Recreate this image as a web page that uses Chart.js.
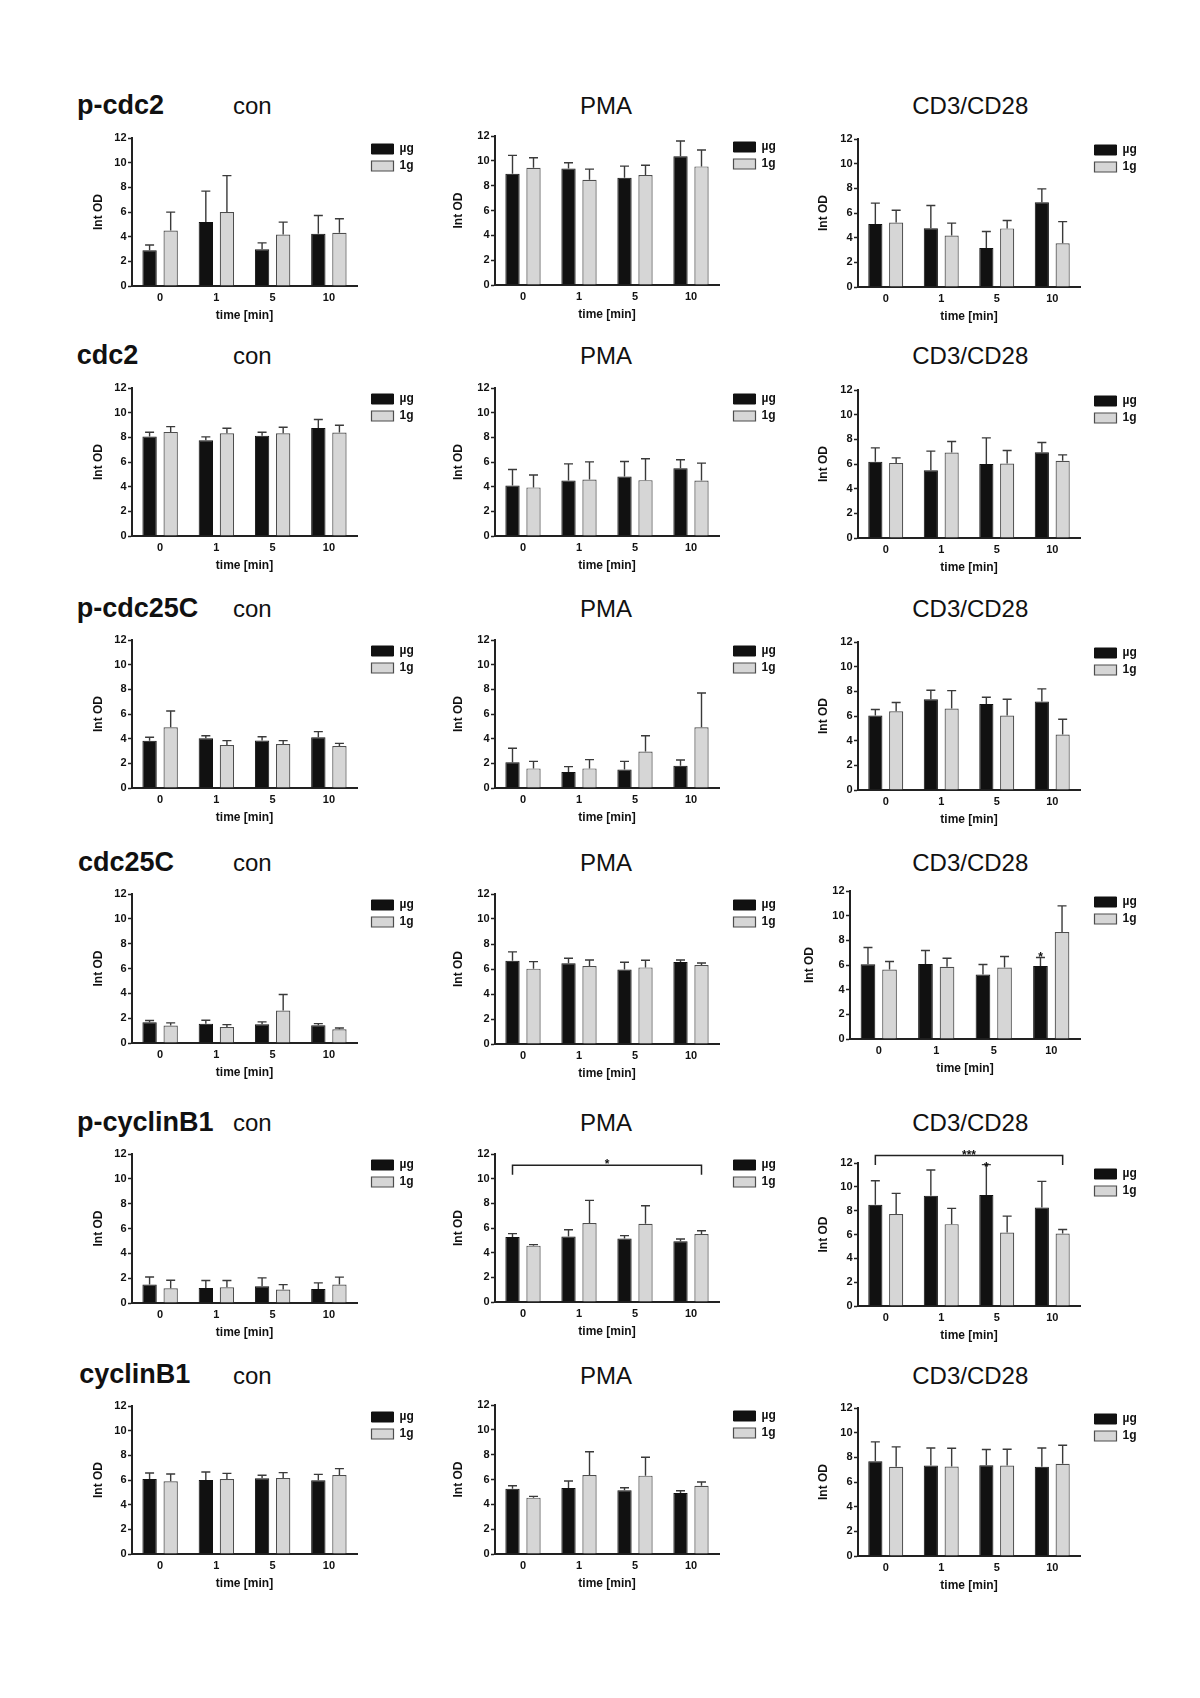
<!DOCTYPE html>
<html>
<head>
<meta charset="utf-8">
<script src="https://cdn.jsdelivr.net/npm/chart.js"></script>
<style>
  html, body { margin: 0; padding: 0; background: #fff; }
  body { width: 1200px; height: 1698px; position: relative; overflow: hidden;
         font-family: 'Liberation Sans', Arial, sans-serif; }
  .lbl { position: absolute; white-space: nowrap; line-height: 1; color: #111; }
  .row { font-weight: bold; font-size: 27px; }
  .col { font-size: 24px; }
  canvas { position: absolute; }
</style>
</head>
<body>
<script>
const times = ['0', '1', '5', '10'];
const groups = ['µg', '1g'];
const proteins = ['p-cdc2', 'cdc2', 'p-cdc25C', 'cdc25C', 'p-cyclinB1', 'cyclinB1'];
const stimuli = ['con', 'PMA', 'CD3/CD28'];

// p-cdc2
const pCdc2ConUg = [2.9, 5.18, 2.97, 4.23];
const pCdc2ConUgSd = [0.43, 2.51, 0.53, 1.49];
const pCdc2Con1g = [4.5, 5.99, 4.18, 4.31];
const pCdc2Con1gSd = [1.49, 2.96, 1.0, 1.14];
const pCdc2PmaUg = [8.95, 9.39, 8.63, 10.36];
const pCdc2PmaUgSd = [1.49, 0.45, 0.94, 1.24];
const pCdc2Pma1g = [9.44, 8.47, 8.85, 9.55];
const pCdc2Pma1gSd = [0.81, 0.86, 0.8, 1.32];
const pCdc2CdUg = [5.1, 4.77, 3.16, 6.88];
const pCdc2CdUgSd = [1.7, 1.84, 1.34, 1.08];
const pCdc2Cd1g = [5.22, 4.18, 4.75, 3.55];
const pCdc2Cd1gSd = [1.0, 1.0, 0.64, 1.75];

// cdc2
const cdc2ConUg = [8.06, 7.77, 8.12, 8.76];
const cdc2ConUgSd = [0.35, 0.27, 0.29, 0.68];
const cdc2Con1g = [8.44, 8.33, 8.33, 8.39];
const cdc2Con1gSd = [0.43, 0.41, 0.49, 0.59];
const cdc2PmaUg = [4.1, 4.5, 4.83, 5.5];
const cdc2PmaUgSd = [1.29, 1.35, 1.21, 0.68];
const cdc2Pma1g = [3.94, 4.58, 4.53, 4.5];
const cdc2Pma1gSd = [1.0, 1.43, 1.73, 1.41];
const cdc2CdUg = [6.18, 5.5, 5.99, 6.96];
const cdc2CdUgSd = [1.13, 1.54, 2.13, 0.78];
const cdc2Cd1g = [6.09, 6.93, 6.04, 6.26];
const cdc2Cd1gSd = [0.41, 0.89, 1.05, 0.48];

// p-cdc25C
const pCdc25ConUg = [3.84, 4.03, 3.86, 4.11];
const pCdc25ConUgSd = [0.27, 0.21, 0.3, 0.46];
const pCdc25Con1g = [4.92, 3.49, 3.57, 3.41];
const pCdc25Con1gSd = [1.32, 0.35, 0.27, 0.21];
const pCdc25PmaUg = [2.08, 1.3, 1.49, 1.81];
const pCdc25PmaUgSd = [1.14, 0.43, 0.67, 0.46];
const pCdc25Pma1g = [1.59, 1.59, 2.95, 4.92];
const pCdc25Pma1gSd = [0.57, 0.71, 1.29, 2.78];
const pCdc25CdUg = [6.04, 7.36, 6.98, 7.17];
const pCdc25CdUgSd = [0.49, 0.73, 0.54, 1.03];
const pCdc25Cd1g = [6.39, 6.61, 6.04, 4.5];
const pCdc25Cd1gSd = [0.7, 1.45, 1.32, 1.24];

// cdc25C
const cdc25ConUg = [1.67, 1.56, 1.51, 1.43];
const cdc25ConUgSd = [0.14, 0.27, 0.19, 0.13];
const cdc25Con1g = [1.4, 1.29, 2.62, 1.11];
const cdc25Con1gSd = [0.22, 0.19, 1.29, 0.1];
const cdc25PmaUg = [6.67, 6.46, 5.97, 6.56];
const cdc25PmaUgSd = [0.7, 0.4, 0.57, 0.16];
const cdc25Pma1g = [6.03, 6.24, 6.13, 6.32];
const cdc25Pma1gSd = [0.56, 0.48, 0.57, 0.16];
const cdc25CdUg = [6.07, 6.09, 5.23, 5.91];
const cdc25CdUgSd = [1.35, 1.08, 0.81, 0.7];
const cdc25Cd1g = [5.64, 5.85, 5.8, 8.68];
const cdc25Cd1gSd = [0.64, 0.7, 0.89, 2.11];

// p-cyclinB1
const pCycConUg = [1.48, 1.21, 1.35, 1.13];
const pCycConUgSd = [0.62, 0.6, 0.67, 0.49];
const pCycCon1g = [1.19, 1.27, 1.08, 1.48];
const pCycCon1gSd = [0.64, 0.54, 0.4, 0.6];
const pCycPmaUg = [5.27, 5.32, 5.14, 4.92];
const pCycPmaUgSd = [0.27, 0.54, 0.24, 0.19];
const pCycPma1g = [4.57, 6.41, 6.35, 5.51];
const pCycPma1gSd = [0.08, 1.83, 1.46, 0.27];
const pCycCdUg = [8.49, 9.25, 9.31, 8.27];
const pCycCdUgSd = [2.02, 2.16, 2.55, 2.19];
const pCycCd1g = [7.71, 6.87, 6.17, 6.08];
const pCycCd1gSd = [1.74, 1.32, 1.37, 0.34];

// cyclinB1
const cycConUg = [6.08, 6.0, 6.14, 5.97];
const cycConUgSd = [0.49, 0.65, 0.24, 0.49];
const cycCon1g = [5.89, 6.08, 6.16, 6.41];
const cycCon1gSd = [0.6, 0.46, 0.44, 0.51];
const cycPmaUg = [5.26, 5.32, 5.13, 4.91];
const cycPmaUgSd = [0.24, 0.56, 0.21, 0.19];
const cycPma1g = [4.54, 6.36, 6.31, 5.5];
const cycPma1gSd = [0.1, 1.88, 1.48, 0.3];
const cycCdUg = [7.69, 7.34, 7.36, 7.23];
const cycCdUgSd = [1.56, 1.42, 1.27, 1.53];
const cycCd1g = [7.23, 7.25, 7.34, 7.47];
const cycCd1gSd = [1.62, 1.49, 1.32, 1.51];

// significance marks (value levels on the y scale)
const pCycPmaBracket = { from: 0, to: 3, level: 11.08, drop: 10.32, text: '*', textAt: 11.4 };
const pCycCdBracket = { from: 0, to: 3, level: 12.62, drop: 11.83, text: '***', textAt: 12.9 };
const pCycCdStar = { ds: 0, idx: 2, at: 11.9, text: '*' };
const cdc25CdStar = { ds: 0, idx: 3, at: 6.9, text: '*' };

Chart.defaults.font.family = "'Liberation Sans', Arial, sans-serif";
Chart.defaults.color = '#111';

// layout of the page (pixel positions of each plot area)
const colX = [131.7, 495, 858];
const colW = [225, 224, 222];
const titleOff = [33, 36.6, 34.5];
const rowBase = [114.7, 364.7, 617.7, 871.7, 1131.7, 1384];
const rowLabelX = [77, 76.7, 76.7, 78, 77, 79.3];

const panels = [
  { r: 0, c: 0, top: 138, bottom: 286.3, d: [pCdc2ConUg, pCdc2ConUgSd, pCdc2Con1g, pCdc2Con1gSd] },
  { r: 0, c: 1, top: 136.3, bottom: 284.7, d: [pCdc2PmaUg, pCdc2PmaUgSd, pCdc2Pma1g, pCdc2Pma1gSd] },
  { r: 0, c: 2, top: 138.7, bottom: 287, d: [pCdc2CdUg, pCdc2CdUgSd, pCdc2Cd1g, pCdc2Cd1gSd] },
  { r: 1, c: 0, top: 388, bottom: 536.3, d: [cdc2ConUg, cdc2ConUgSd, cdc2Con1g, cdc2Con1gSd] },
  { r: 1, c: 1, top: 388, bottom: 536.3, d: [cdc2PmaUg, cdc2PmaUgSd, cdc2Pma1g, cdc2Pma1gSd] },
  { r: 1, c: 2, top: 389.7, bottom: 538, d: [cdc2CdUg, cdc2CdUgSd, cdc2Cd1g, cdc2Cd1gSd] },
  { r: 2, c: 0, top: 639.7, bottom: 787.7, d: [pCdc25ConUg, pCdc25ConUgSd, pCdc25Con1g, pCdc25Con1gSd] },
  { r: 2, c: 1, top: 639.7, bottom: 787.7, d: [pCdc25PmaUg, pCdc25PmaUgSd, pCdc25Pma1g, pCdc25Pma1gSd] },
  { r: 2, c: 2, top: 642, bottom: 790.3, d: [pCdc25CdUg, pCdc25CdUgSd, pCdc25Cd1g, pCdc25Cd1gSd] },
  { r: 3, c: 0, top: 894.3, bottom: 1042.7, d: [cdc25ConUg, cdc25ConUgSd, cdc25Con1g, cdc25Con1gSd] },
  { r: 3, c: 1, top: 894.3, bottom: 1043.7, d: [cdc25PmaUg, cdc25PmaUgSd, cdc25Pma1g, cdc25Pma1gSd] },
  { r: 3, c: 2, top: 891, bottom: 1039.3, x: 850, w: 230, d: [cdc25CdUg, cdc25CdUgSd, cdc25Cd1g, cdc25Cd1gSd], stars: [cdc25CdStar] },
  { r: 4, c: 0, top: 1154.3, bottom: 1302.7, d: [pCycConUg, pCycConUgSd, pCycCon1g, pCycCon1gSd] },
  { r: 4, c: 1, top: 1153.7, bottom: 1301.7, d: [pCycPmaUg, pCycPmaUgSd, pCycPma1g, pCycPma1gSd], brackets: [pCycPmaBracket] },
  { r: 4, c: 2, top: 1163.3, bottom: 1306, d: [pCycCdUg, pCycCdUgSd, pCycCd1g, pCycCd1gSd], brackets: [pCycCdBracket], stars: [pCycCdStar] },
  { r: 5, c: 0, top: 1406.3, bottom: 1553.7, d: [cycConUg, cycConUgSd, cycCon1g, cycCon1gSd] },
  { r: 5, c: 1, top: 1404.7, bottom: 1553.7, d: [cycPmaUg, cycPmaUgSd, cycPma1g, cycPma1gSd] },
  { r: 5, c: 2, top: 1408, bottom: 1556.3, d: [cycCdUg, cycCdUgSd, cycCd1g, cycCd1gSd] },
];

// legend sits just right of the x axis end
const legendShift = {
  id: 'legendShift',
  afterLayout(chart) {
    const lg = chart.legend;
    const w = lg.width;
    const h = lg.height;
    lg.left = chart.chartArea.right + 9.5;
    lg.top = chart.chartArea.top;
    lg.right = lg.left + w + 10;
    lg.bottom = lg.top + h;
    lg.width = w + 10;
  }
};

// upward error bars with caps
const errorBars = {
  id: 'errorBars',
  afterDatasetsDraw(chart) {
    const { ctx } = chart;
    const y = chart.scales.y;
    ctx.save();
    ctx.strokeStyle = '#3a3a3a';
    ctx.lineWidth = 1.4;
    chart.data.datasets.forEach((ds, i) => {
      chart.getDatasetMeta(i).data.forEach((bar, j) => {
        const yTop = y.getPixelForValue(ds.data[j] + ds.sd[j]);
        ctx.beginPath();
        ctx.moveTo(bar.x, bar.y);
        ctx.lineTo(bar.x, yTop);
        ctx.moveTo(bar.x - 4.5, yTop);
        ctx.lineTo(bar.x + 4.5, yTop);
        ctx.stroke();
      });
    });
    ctx.restore();
  }
};

const makeSigPlugin = (brackets, stars) => ({
  id: 'sigMarks',
  afterDraw(chart) {
    const { ctx } = chart;
    const y = chart.scales.y;
    const m0 = chart.getDatasetMeta(0).data;
    const m1 = chart.getDatasetMeta(1).data;
    ctx.save();
    ctx.strokeStyle = '#222';
    ctx.fillStyle = '#111';
    ctx.lineWidth = 1.5;
    ctx.font = "bold 12px 'Liberation Sans', Arial, sans-serif";
    ctx.textAlign = 'center';
    ctx.textBaseline = 'alphabetic';
    brackets.forEach((b) => {
      const x1 = m0[b.from].x;
      const x2 = m1[b.to].x;
      const yl = y.getPixelForValue(b.level);
      const yd = y.getPixelForValue(b.drop);
      ctx.beginPath();
      ctx.moveTo(x1, yd);
      ctx.lineTo(x1, yl);
      ctx.lineTo(x2, yl);
      ctx.lineTo(x2, yd);
      ctx.stroke();
      ctx.fillText(b.text, (x1 + x2) / 2, y.getPixelForValue(b.textAt) + 7);
    });
    stars.forEach((s) => {
      const bar = chart.getDatasetMeta(s.ds).data[s.idx];
      ctx.fillText(s.text, bar.x, y.getPixelForValue(s.at) + 7);
    });
    ctx.restore();
  }
});

const addText = (txt, cls, x, base, fs, center) => {
  const d = document.createElement('div');
  d.className = 'lbl ' + cls;
  d.textContent = txt;
  d.style.left = x + 'px';
  d.style.top = (base - 0.8465 * fs) + 'px';
  if (center) d.style.transform = 'translateX(-50%)';
  document.body.appendChild(d);
};

proteins.forEach((p, r) => {
  addText(p, 'row', rowLabelX[r], rowBase[r], 27, false);
  addText(stimuli[0], 'col', 233, rowBase[r], 24, false);
  addText(stimuli[1], 'col', 606, rowBase[r], 24, true);
  addText(stimuli[2], 'col', 970.3, rowBase[r], 24, true);
});

const yW = 48, padTop = 22, xH = 40, padBottom = 4, padRight = 80;

const makeChart = (p) => {
  const x = p.x || colX[p.c];
  const w = p.w || colW[p.c];
  const top = Math.round(p.top);
  const plotH = Math.round(p.bottom) - top;
  const cw = Math.round(yW + w + padRight);
  const ch = padTop + plotH + xH + padBottom;
  const canvas = document.createElement('canvas');
  canvas.width = cw;
  canvas.height = ch;
  canvas.style.left = Math.round(x - yW) + 'px';
  canvas.style.top = (top - padTop) + 'px';
  canvas.style.width = cw + 'px';
  canvas.style.height = ch + 'px';
  document.body.appendChild(canvas);
  const off = p.x ? titleOff[p.c] + (colX[p.c] - x) : titleOff[p.c];

  new Chart(canvas, {
    type: 'bar',
    data: {
      labels: times,
      datasets: [
        { label: groups[0], data: p.d[0], sd: p.d[1], backgroundColor: '#111', borderColor: '#111', borderWidth: 1 },
        { label: groups[1], data: p.d[2], sd: p.d[3], backgroundColor: '#d6d6d6', borderColor: '#4d4d4d', borderWidth: 1.2 },
      ],
    },
    options: {
      responsive: false,
      animation: false,
      devicePixelRatio: 1,
      layout: { padding: { top: padTop, right: cw - yW - w, bottom: padBottom, left: 0 } },
      datasets: { bar: { categoryPercentage: 0.75, barPercentage: 0.68 } },
      scales: {
        x: {
          grid: { display: false, drawTicks: false },
          border: { display: true, color: '#222', width: 2 },
          ticks: { color: '#111', font: { size: 11, weight: 'bold' }, padding: 5 },
          title: { display: true, text: 'time [min]', color: '#111', font: { size: 12, weight: 'bold' }, padding: { top: 0, bottom: 3 } },
          afterFit: (s) => { s.height = xH; },
        },
        y: {
          min: 0,
          max: 12,
          ticks: { stepSize: 2, color: '#111', font: { size: 11, weight: 'bold' }, padding: 1.5 },
          grid: { drawOnChartArea: false, drawTicks: true, tickLength: 4, tickColor: '#222', tickWidth: 1.5 },
          border: { display: true, color: '#222', width: 2 },
          title: { display: true, text: 'Int OD', color: '#111', font: { size: 12, weight: 'bold' }, padding: { top: Math.max(0, yW - off - 7.2), bottom: 0 } },
          afterFit: (s) => { s.width = yW; },
        },
      },
      plugins: {
        legend: {
          position: 'chartArea',
          align: 'start',
          labels: { boxWidth: 22, boxHeight: 10, padding: 5, color: '#111', font: { size: 12, weight: 'bold' } },
        },
        tooltip: { enabled: false },
      },
    },
    plugins: [legendShift, errorBars, makeSigPlugin(p.brackets || [], p.stars || [])],
  });
};

panels.forEach(makeChart);
</script>
</body>
</html>
